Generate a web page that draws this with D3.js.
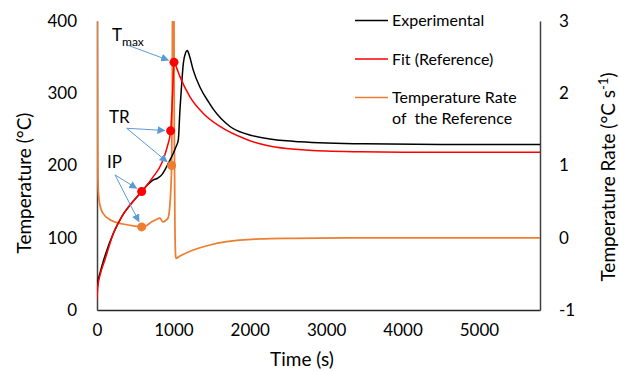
<!DOCTYPE html>
<html>
<head>
<meta charset="utf-8">
<script src="https://cdn.jsdelivr.net/npm/d3@7"></script>
<style>
  body { margin: 0; background: #fff; }
  text { font-family: Lato, "Open Sans", sans-serif; fill: #000; }
</style>
</head>
<body>
<div id="chart"></div>
<script>
// values
const expTime = [0, 10, 39, 105, 214, 323, 454, 585, 660, 737, 802, 847, 900, 933, 999, 1030, 1064, 1086, 1110, 1130, 1160, 1182, 1210, 1260, 1350, 1460, 1522, 1741, 2046, 2395, 2657, 3500, 4500, 5800];
const expTemp = [23, 38, 51, 75, 106, 129, 148, 164, 173, 180, 183, 187, 196, 203, 217, 225, 235, 277, 315, 341, 356, 359, 352, 332, 308, 288, 278, 254, 241, 235, 233, 230, 229, 229];

const fitTime = [0, 10, 39, 105, 214, 323, 454, 585, 737, 847, 920, 964, 990, 1008, 1050, 1086, 1217, 1392, 1610, 1960, 2133, 2308, 2600, 3000, 3442, 4000, 5800];
const fitTemp = [15, 32, 48, 70, 106, 129, 148, 164, 184.5, 203, 226, 248, 300, 343, 333, 323, 295, 272, 254, 236, 230, 226, 222.5, 220, 219, 218.5, 218.3];

const rateTime = [0, 4, 8, 13, 20, 39, 78, 170, 340, 500, 585, 650, 716, 770, 825, 864, 900, 929, 950, 968, 977, 985, 992, 1005, 1012, 1020, 1030, 1036, 1086, 1260, 1479, 1697, 2133, 2565, 3442, 5800];
const rateVal = [4.5, 3.0, 1.5, 0.8, 0.6, 0.45, 0.34, 0.25, 0.19, 0.16, 0.15, 0.17, 0.22, 0.25, 0.27, 0.22, 0.24, 0.27, 0.4, 0.7, 1.0, 2.0, 4.0, 4.0, 1.5, 0.2, -0.26, -0.284, -0.253, -0.17, -0.1, -0.055, -0.017, -0.008, 0, 0];

// marked points on the curves
const fitPoints = [{ t: 585, v: 164 }, { t: 964, v: 248 }, { t: 1008, v: 343 }];
const ratePoints = [{ t: 585, v: 0.15 }, { t: 977, v: 1.0 }];

const xTicks = [0, 1000, 2000, 3000, 4000, 5000];
const yTicks = [0, 100, 200, 300, 400];
const rTicks = [-1, 0, 1, 2, 3];

const legendNames = ["Experimental", "Fit (Reference)", "Temperature Rate"];

const width = 619;
const height = 371;
const margin = { top: 21, right: 79, bottom: 61, left: 97 };
const innerW = width - margin.left - margin.right;
const innerH = height - margin.top - margin.bottom;

const svg = d3
  .select("#chart")
  .append("svg")
  .attr("width", width)
  .attr("height", height);

const g = svg
  .append("g")
  .attr("transform", `translate(${margin.left},${margin.top})`);

const x = d3.scaleLinear([0, 5800], [0, innerW]);
const y = d3.scaleLinear([0, 400], [innerH, 0]);
const yR = d3.scaleLinear([-1, 3], [innerH, 0]);

svg
  .append("defs")
  .append("clipPath")
  .attr("id", "plot-clip")
  .append("rect")
  .attr("x", 0)
  .attr("y", 0)
  .attr("width", innerW)
  .attr("height", innerH);

svg
  .select("defs")
  .append("marker")
  .attr("id", "arrow")
  .attr("viewBox", "0 0 10 10")
  .attr("refX", 9)
  .attr("refY", 5)
  .attr("markerWidth", 8)
  .attr("markerHeight", 8)
  .attr("markerUnits", "userSpaceOnUse")
  .attr("orient", "auto")
  .append("path")
  .attr("d", "M0,0L10,5L0,10Z")
  .attr("fill", "#5b9bd5");

// axes (Excel style: no tick marks, plain hyphen for negatives)
const plain = (d) => String(d);
const xAxis = g
  .append("g")
  .attr("transform", `translate(0,${innerH})`)
  .call(d3.axisBottom(x).tickValues(xTicks).tickSize(0).tickPadding(14).tickFormat(plain));
const yAxis = g
  .append("g")
  .call(d3.axisLeft(y).tickValues(yTicks).tickSize(0).tickPadding(20).tickFormat(plain));
const rAxis = g
  .append("g")
  .attr("transform", `translate(${innerW},0)`)
  .call(d3.axisRight(yR).tickValues(rTicks).tickSize(0).tickPadding(19).tickFormat(plain));

[xAxis, yAxis, rAxis].forEach((a) => {
  a.selectAll("text").style("font-family", "Lato, sans-serif").style("font-size", "17px").attr("fill", "#000");
  a.select(".domain").attr("stroke", "#404040").attr("stroke-width", 1.5);
});
xAxis.select(".domain").attr("stroke", "#262626");

const plot = g.append("g").attr("clip-path", "url(#plot-clip)");

const lineT = (ts, vs, sc) =>
  d3
    .line()
    .x((d, i) => x(ts[i]))
    .y((d, i) => sc(vs[i]))
    .curve(d3.curveMonotoneX)(ts);

plot
  .append("path")
  .attr("d", lineT(rateTime, rateVal, yR))
  .attr("fill", "none")
  .attr("stroke", "#ed7d31")
  .attr("stroke-width", 1.75);

plot
  .append("path")
  .attr("d", lineT(expTime, expTemp, y))
  .attr("fill", "none")
  .attr("stroke", "#000")
  .attr("stroke-width", 1.5);

plot
  .append("path")
  .attr("d", lineT(fitTime, fitTemp, y))
  .attr("fill", "none")
  .attr("stroke", "#ff0000")
  .attr("stroke-width", 1.5);

g.selectAll(".fitdot")
  .data(fitPoints)
  .enter()
  .append("circle")
  .attr("cx", (d) => x(d.t))
  .attr("cy", (d) => y(d.v))
  .attr("r", 4.5)
  .attr("fill", "#ff0000");

g.selectAll(".ratedot")
  .data(ratePoints)
  .enter()
  .append("circle")
  .attr("cx", (d) => x(d.t))
  .attr("cy", (d) => yR(d.v))
  .attr("r", 4.5)
  .attr("fill", "#ed7d31");

// annotation arrows: label anchor (time, temperature) -> target dot
const arrows = [
  { from: [389, 367], to: [x(1008), y(343)] },
  { from: [389, 251.5], to: [x(964), y(248)] },
  { from: [389, 251.5], to: [x(977), yR(1.0)] },
  { from: [236, 187], to: [x(585), y(164)] },
  { from: [236, 187], to: [x(585), yR(0.15)] },
];
arrows.forEach((a) => {
  const x0 = x(a.from[0]);
  const y0 = y(a.from[1]);
  const dx = a.to[0] - x0;
  const dy = a.to[1] - y0;
  const len = Math.hypot(dx, dy);
  const k = (len - 6) / len;
  g.append("line")
    .attr("x1", x0)
    .attr("y1", y0)
    .attr("x2", x0 + dx * k)
    .attr("y2", y0 + dy * k)
    .attr("stroke", "#5b9bd5")
    .attr("stroke-width", 1)
    .attr("marker-end", "url(#arrow)");
});

const tmax = g.append("text").attr("x", x(196)).attr("y", y(372)).style("font-size", "17px");
tmax.append("tspan").text("T");
tmax.append("tspan").attr("dy", 5).style("font-size", "12px").text("max");
g.append("text").attr("x", x(157)).attr("y", y(259)).style("font-size", "17px").text("TR");
g.append("text").attr("x", x(131)).attr("y", y(196.5)).style("font-size", "17px").text("IP");

// legend
const legendColors = ["#000", "#ff0000", "#ed7d31"];
const legend = svg.append("g").attr("transform", "translate(355,0)");
legendNames.forEach((name, i) => {
  const cy = 20.5 + i * 38.5;
  legend
    .append("line")
    .attr("x1", 0)
    .attr("x2", 33)
    .attr("y1", cy)
    .attr("y2", cy)
    .attr("stroke", legendColors[i])
    .attr("stroke-width", 1.5);
  legend
    .append("text")
    .attr("x", 37)
    .attr("y", cy + 5.5)
    .style("font-size", "16px")
    .text(name);
});
legend
  .append("text")
  .attr("x", 37)
  .attr("y", 20.5 + 2 * 38.5 + 26)
  .style("font-size", "16px")
  .attr("xml:space", "preserve")
  .text("of  the Reference");

// axis titles
svg
  .append("text")
  .attr("transform", "translate(31,183) rotate(-90)")
  .attr("text-anchor", "middle")
  .style("font-size", "19px")
  .text("Temperature (°C)");

const rt = svg
  .append("text")
  .attr("transform", "translate(615,177) rotate(-90)")
  .attr("text-anchor", "middle")
  .style("font-size", "19px");
rt.append("tspan").text("Temperature Rate (°C s");
rt.append("tspan").attr("dy", -7).style("font-size", "13px").text("-1");
rt.append("tspan").attr("dy", 7).text(")");

svg
  .append("text")
  .attr("x", 302)
  .attr("y", 366)
  .attr("text-anchor", "middle")
  .style("font-size", "19px")
  .text("Time (s)");
</script>
</body>
</html>
